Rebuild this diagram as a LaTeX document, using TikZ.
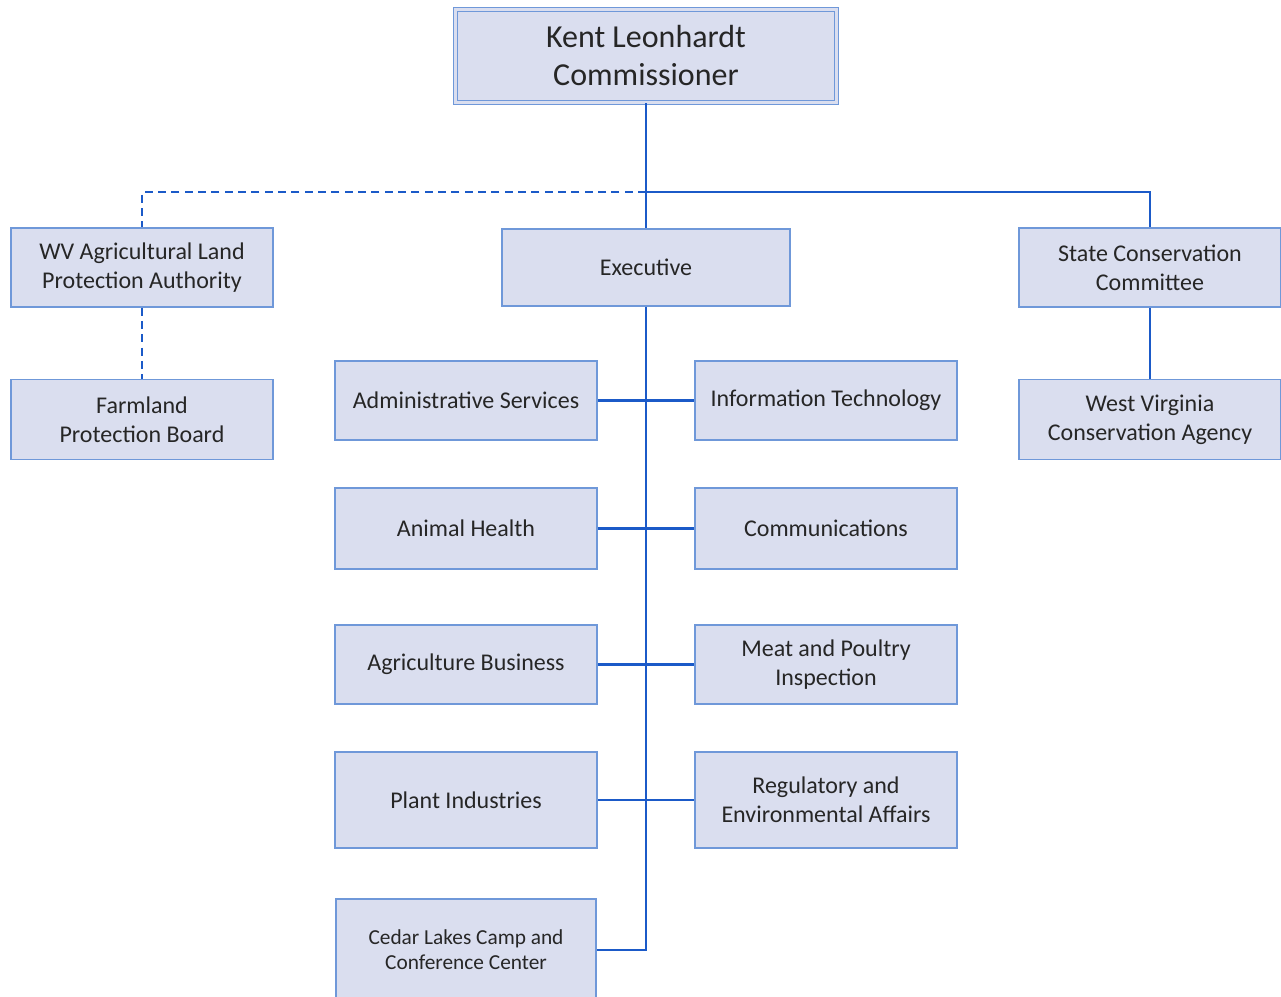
\documentclass[tikz,border=0pt]{standalone}
\usepackage{fontspec}
\setmainfont{Carlito}
\usepackage{tikz}
\definecolor{boxfill}{HTML}{DADEEF}
\definecolor{boxline}{HTML}{6F98D9}
\definecolor{wire}{HTML}{1B5AC8}
\definecolor{ink}{HTML}{262626}
\tikzstyle{unit}=[rectangle,draw=boxline,fill=boxfill,line width=1.2pt,
text=ink,align=center,font=\fontsize{18}{21.75}\selectfont,
minimum width=196.5pt,minimum height=59pt]
\tikzstyle{tallunit}=[unit,minimum height=72pt]
\tikzstyle{head}=[unit,minimum width=286pt,minimum height=70pt,line width=1pt,
double=boxfill,double distance=2.2pt,font=\fontsize{24}{28.5}\selectfont,
drop shadow={shadow xshift=1.5pt,shadow yshift=-1.5pt,opacity=0.35}]
\tikzstyle{link}=[draw=wire,line width=2pt]
\tikzstyle{dlink}=[link,dash pattern=on 6pt off 4pt]
\usetikzlibrary{positioning,shadows}

\begin{document}
\begin{tikzpicture}[on grid,node distance=96pt]
			\useasboundingbox (-484.5pt,-546.4pt) rectangle (476.25pt,200.6pt);

			% top part
			\node[unit,minimum width=216pt,minimum height=58pt] (exec) {Executive};
			\node[head,above=158.6pt of exec] (boss) {Kent Leonhardt\\Commissioner};
			\node[unit,left=378pt of exec] (wvag) {WV Agricultural Land\\Protection Authority};
			\node[unit,below=114pt of wvag,minimum height=60pt] (farm) {Farmland\\Protection Board};
			\node[unit,right=378pt of exec] (scc) {State Conservation\\Committee};
			\node[unit,below=114pt of scc,minimum height=60pt] (wvca) {West Virginia\\Conservation Agency};
			\coordinate[above=27pt of exec.north] (split);

			\path[link] (boss) -- (exec);
			\path[link] (split) -| (scc);
			\path[dlink] (split) -| (wvag);
			\path[dlink] (wvag) -- (farm);
			\path[link] (scc) -- (wvca);

			% divisions part
			\node[unit,below left=99.75pt and 135pt of exec] (admin) {Administrative Services};
			\node[unit,right=270pt of admin] (it) {Information Technology};
			\node[unit,below=of admin,minimum height=61pt] (animal) {Animal Health};
			\node[unit,right=270pt of animal,minimum height=61pt] (comm) {Communications};
			\node[unit,below=102pt of animal] (agbus) {Agriculture Business};
			\node[unit,right=270pt of agbus] (meat) {Meat and Poultry\\Inspection};
			\node[tallunit,below=101.6pt of agbus] (plant) {Plant Industries};
			\node[tallunit,right=270pt of plant] (reg) {Regulatory and\\Environmental Affairs};
			\node[tallunit,below=112.5pt of plant,minimum width=195pt,minimum height=76pt,
				font=\fontsize{16}{18.75}\selectfont] (cedar) {Cedar Lakes Camp and\\Conference Center};

			\path[link] (admin) -- (it);
			\path[link] (animal) -- (comm);
			\path[link] (agbus) -- (meat);
			\path[link] (plant) -- (reg);
			\path[link] (exec) |- (cedar);
		\end{tikzpicture}
\end{document}
